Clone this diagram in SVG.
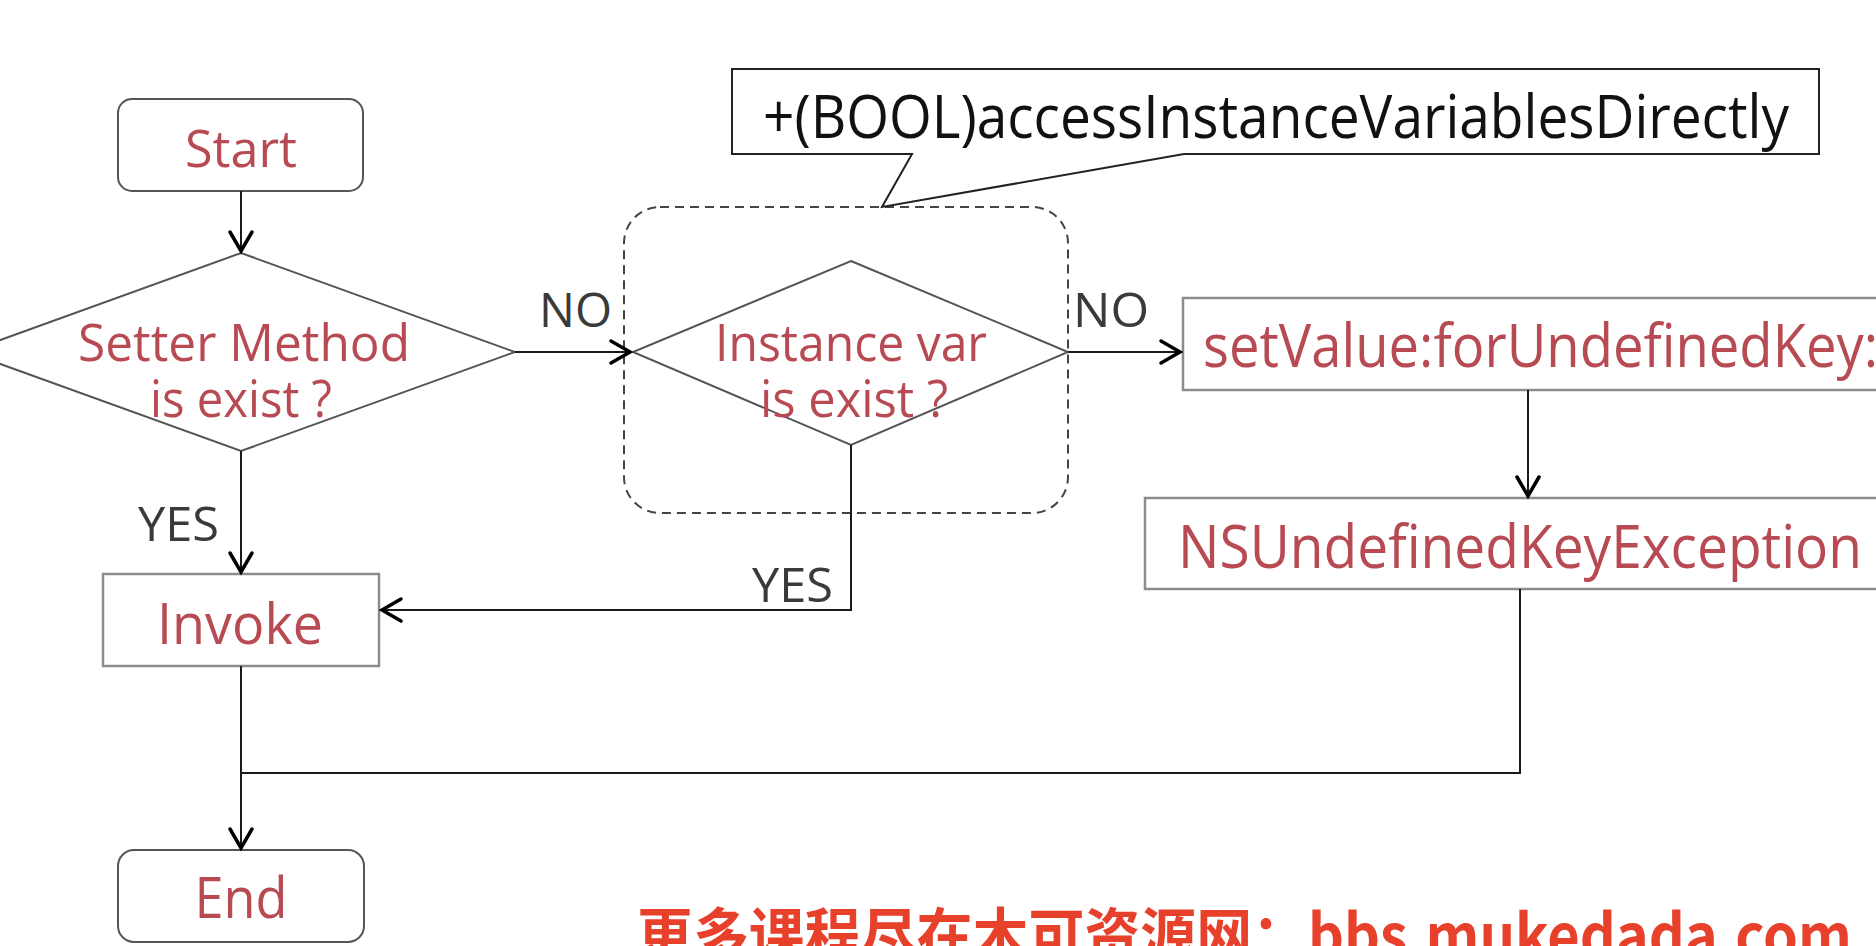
<svg xmlns="http://www.w3.org/2000/svg" width="1876" height="946" viewBox="0 0 1876 946">
<style>
.bg{fill:#ffffff}
.term{fill:#fff;stroke:#555;stroke-width:2}
.box{fill:#fff;stroke:#8c8c8c;stroke-width:2.5}
.dia{fill:#fff;stroke:#555;stroke-width:2}
.lbl{font-family:"Open Sans","Noto Sans","DejaVu Sans",sans-serif;fill:#b84a53;text-anchor:middle}
.lbl-l{font-family:"Open Sans","Noto Sans","DejaVu Sans",sans-serif;fill:#b84a53}
.edge-lbl{font-family:"Open Sans","Noto Sans","DejaVu Sans",sans-serif;fill:#3a3a3a;font-size:48px}
.conn{fill:none;stroke:#1a1a1a;stroke-width:2}
.note{fill:#fff;stroke:#222;stroke-width:2}
.note-t{font-family:"Open Sans","Noto Sans","DejaVu Sans",sans-serif;fill:#111;font-size:60px}
.group{fill:none;stroke:#444;stroke-width:2;stroke-dasharray:9 6}
.wm{font-family:"Noto Sans CJK SC","Noto Sans",sans-serif;font-weight:bold;fill:#e8412b;font-size:60px}
</style>
<defs>
<marker id="arr" viewBox="-26 -15 30 30" markerWidth="30" markerHeight="30" refX="0" refY="0" orient="auto" markerUnits="userSpaceOnUse">
<path d="M-19,-11 L0,0 L-19,11" fill="none" stroke="#000" stroke-width="3.5" stroke-linecap="round" stroke-linejoin="miter"/>
</marker>
</defs>
<rect class="bg" x="0" y="0" width="1876" height="946"/>

<g id="group-ivar">
<rect class="group" x="624" y="207" width="444" height="306" rx="36" ry="36"/>
</g>

<g id="note-access">
<path class="note" d="M732,69 H1819 V154 H1184 L882,207 L912,154 H732 Z"/>
<text class="note-t" x="763" y="138" textLength="1026" lengthAdjust="spacingAndGlyphs">+(BOOL)accessInstanceVariablesDirectly</text>
</g>

<g id="node-start">
<rect class="term" x="118" y="99" width="245" height="92" rx="14" ry="14"/>
<text class="lbl" x="241" y="167" font-size="52" textLength="112" lengthAdjust="spacingAndGlyphs">Start</text>
</g>

<g id="node-setter">
<polygon class="dia" points="241,253 515,352 241,451 -33,352"/>
<text class="lbl" x="244" y="361" font-size="52" textLength="332" lengthAdjust="spacingAndGlyphs">Setter Method</text>
<text class="lbl" x="241" y="417" font-size="52" textLength="182" lengthAdjust="spacingAndGlyphs">is exist ?</text>
</g>

<g id="node-ivar">
<polygon class="dia" points="851,261 1068,352 851,445 633,352"/>
<text class="lbl" x="851" y="361" font-size="52" textLength="272" lengthAdjust="spacingAndGlyphs">Instance var</text>
<text class="lbl" x="854" y="417" font-size="52" textLength="188" lengthAdjust="spacingAndGlyphs">is exist ?</text>
</g>

<g id="node-setvalue">
<rect class="box" x="1183" y="298" width="760" height="92"/>
<text class="lbl-l" x="1203" y="367" font-size="60" textLength="675" lengthAdjust="spacingAndGlyphs">setValue:forUndefinedKey:</text>
</g>

<g id="node-exception">
<rect class="box" x="1145" y="498" width="800" height="91"/>
<text class="lbl-l" x="1178" y="568" font-size="60" textLength="684" lengthAdjust="spacingAndGlyphs">NSUndefinedKeyException</text>
</g>

<g id="node-invoke">
<rect class="box" x="103" y="574" width="276" height="92"/>
<text class="lbl" x="240" y="644" font-size="56" textLength="166" lengthAdjust="spacingAndGlyphs">Invoke</text>
</g>

<g id="node-end">
<rect class="term" x="118" y="850" width="246" height="92" rx="16" ry="16"/>
<text class="lbl" x="241" y="918" font-size="56" textLength="93" lengthAdjust="spacingAndGlyphs">End</text>
</g>

<g id="connectors">
<path class="conn" d="M241,191 V251" marker-end="url(#arr)"/>
<path class="conn" d="M241,451 V572" marker-end="url(#arr)"/>
<path class="conn" d="M515,352 H630" marker-end="url(#arr)"/>
<path class="conn" d="M1068,352 H1180" marker-end="url(#arr)"/>
<path class="conn" d="M851,445 V610 H382" marker-end="url(#arr)"/>
<path class="conn" d="M1528,390 V496" marker-end="url(#arr)"/>
<path class="conn" d="M241,666 V848" marker-end="url(#arr)"/>
<path class="conn" d="M1520,589 V773 H241"/>
<text class="edge-lbl" x="539" y="327" textLength="73" lengthAdjust="spacingAndGlyphs">NO</text>
<text class="edge-lbl" x="1073" y="327" textLength="76" lengthAdjust="spacingAndGlyphs">NO</text>
<text class="edge-lbl" x="138" y="541" textLength="81" lengthAdjust="spacingAndGlyphs">YES</text>
<text class="edge-lbl" x="752" y="602" textLength="81" lengthAdjust="spacingAndGlyphs">YES</text>
</g>

<text class="wm" x="637" y="958" textLength="1215" lengthAdjust="spacingAndGlyphs">更多课程尽在木可资源网：bbs.mukedada.com</text>
</svg>
